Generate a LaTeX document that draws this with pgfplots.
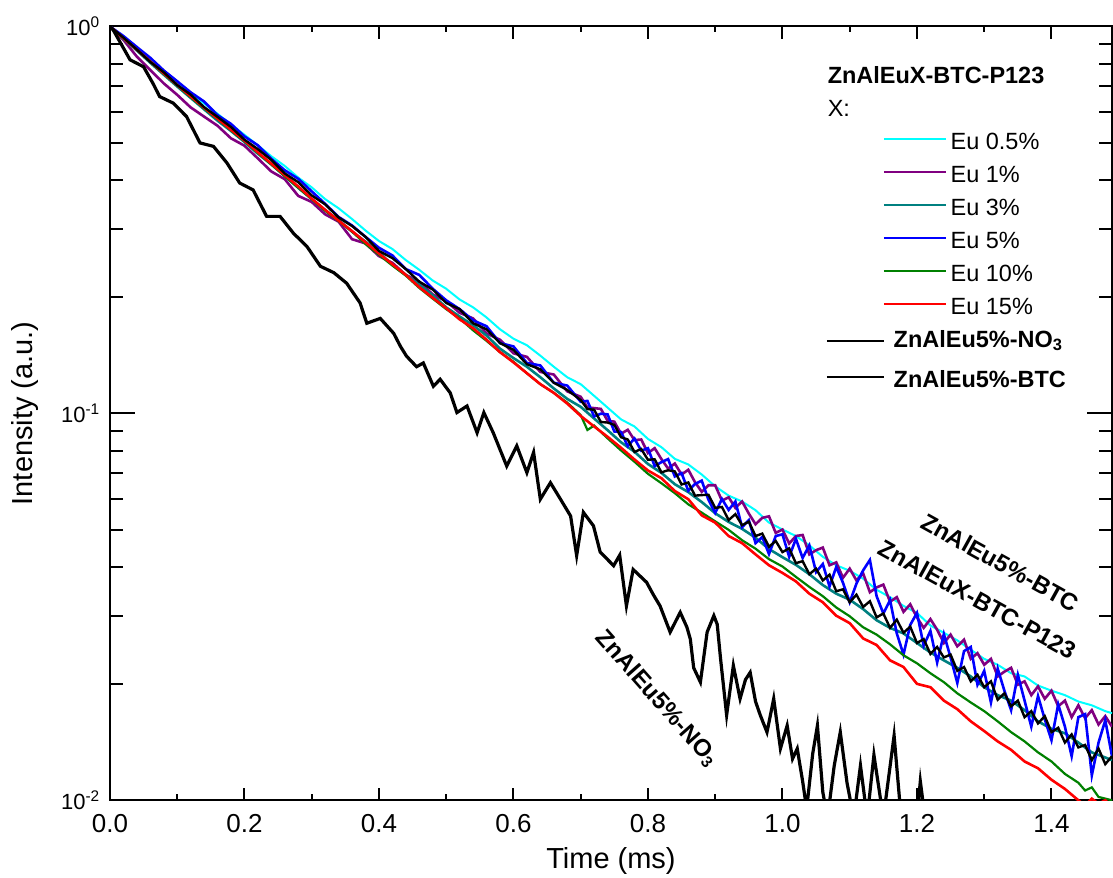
\documentclass[border=0pt]{standalone}
\usepackage{fontspec}
\setmainfont{Liberation Sans}
\usepackage{pgfplots}
\pgfplotsset{compat=1.18}
\definecolor{cEuA}{RGB}{0,255,255}
\definecolor{cEuB}{RGB}{128,0,128}
\definecolor{cEuC}{RGB}{0,128,128}
\definecolor{cEuD}{RGB}{0,0,255}
\definecolor{cEuE}{RGB}{0,128,0}
\definecolor{cEuF}{RGB}{255,0,0}
\pgfplotsset{
  euleg/.style={legend image code/.code={\draw[##1,line width=1pt,overlay] (28.5pt,0pt) -- (59.5pt,0pt);}},
  blkleg/.style={legend image code/.code={\draw[##1,line width=1pt] (0pt,0pt) -- (28.5pt,0pt);}},
}
\begin{document}
\begin{tikzpicture}
\begin{axis}[name=ax,
  scale only axis, width=501.5pt, height=387.25pt,
  xmin=0, xmax=1.49, ymode=log, ymin=0.01, ymax=1,
  xtick=\empty,
  ytick={0.01,0.1,1},
  yticklabels={10\textsuperscript{-2},10\textsuperscript{-1},10\textsuperscript{0}},
  minor ytick={0.02,0.03,0.04,0.05,0.06,0.07,0.08,0.09,0.2,0.3,0.4,0.5,0.6,0.7,0.8,0.9},
  major tick length=12.5pt, minor tick length=6.5pt,
  tick align=inside,
  every tick/.style={black, line width=1pt},
  axis line style={line width=1pt},
  yticklabel style={font=\fontsize{11}{13}\selectfont, xshift=-1.3pt},
  xlabel={Time (ms)}, ylabel={Intensity (a.u.)},
  every axis x label/.style={at={(axis description cs:0.5,-0.079)}, anchor=center, font=\fontsize{14.5}{17}\selectfont},
  every axis y label/.style={at={(axis description cs:-0.0847,0.5)}, rotate=90, anchor=center, font=\fontsize{14.5}{17}\selectfont},
  legend cell align=left,
  legend style={draw=none, fill=none, at={(0.714,0.961)}, anchor=north west,
    font=\fontsize{11.75}{14}\selectfont, inner sep=0pt, row sep=0pt, column sep=2.5pt,
    nodes={inner xsep=2pt, inner ysep=0pt, text height=13.25pt, text depth=3.25pt}},
]
\addlegendimage{empty legend}\addlegendentry{\hspace*{-33pt}\textbf{ZnAlEuX-BTC-P123}\hspace*{33pt}}
\addlegendimage{empty legend}\addlegendentry{\hspace*{-33pt}X:\hspace*{33pt}}

\addplot[cEuA, line width=1pt, euleg] coordinates {
(0,1.000)(0.02,0.938)(0.04,0.875)(0.06,0.818)(0.08,0.767)(0.10,0.718)(0.12,0.674)(0.14,0.632)(0.16,0.595)(0.18,0.558)(0.20,0.525)(0.22,0.493)(0.24,0.462)(0.26,0.436)(0.28,0.407)(0.30,0.384)(0.32,0.358)(0.34,0.339)(0.36,0.318)(0.38,0.297)(0.40,0.279)(0.42,0.266)(0.44,0.249)(0.46,0.235)(0.48,0.2205)(0.50,0.210)(0.52,0.197)(0.54,0.188)(0.56,0.177)(0.58,0.165)(0.60,0.156)(0.62,0.150)(0.64,0.141)(0.66,0.132)(0.68,0.124)(0.70,0.119)(0.72,0.111)(0.74,0.1035)(0.76,0.0965)(0.78,0.0925)(0.80,0.0859)(0.82,0.0818)(0.84,0.0763)(0.86,0.0738)(0.88,0.0695)(0.90,0.0648)(0.92,0.0613)(0.94,0.0592)(0.96,0.0562)(0.98,0.0522)(1.00,0.0501)(1.02,0.0482)(1.04,0.0456)(1.06,0.0426)(1.08,0.0405)(1.10,0.0392)(1.12,0.0374)(1.14,0.0350)(1.16,0.0335)(1.18,0.0318)(1.20,0.0305)(1.22,0.0283)(1.24,0.0271)(1.26,0.0259)(1.28,0.0245)(1.30,0.0232)(1.32,0.0224)(1.34,0.0213)(1.36,0.0209)(1.38,0.0198)(1.40,0.0192)(1.42,0.0187)(1.44,0.0180)(1.46,0.0176)(1.48,0.0170)(1.49,0.0168)
};
\addlegendentry{\hspace*{28.5pt}Eu 0.5\%}

\addplot[cEuB, line width=1.3pt, euleg] coordinates {
(0,1.000)(0.02,0.924)(0.04,0.836)(0.06,0.772)(0.08,0.713)(0.10,0.666)(0.12,0.618)(0.14,0.585)(0.16,0.554)(0.18,0.514)(0.20,0.492)(0.22,0.456)(0.24,0.422)(0.26,0.403)(0.28,0.365)(0.30,0.352)(0.32,0.327)(0.34,0.313)(0.36,0.282)(0.38,0.275)(0.40,0.255)(0.42,0.245)(0.44,0.228)(0.46,0.219)(0.48,0.203)(0.50,0.195)(0.52,0.182)(0.54,0.176)(0.56,0.161)(0.58,0.155)(0.60,0.143)(0.62,0.140)(0.64,0.128)(0.66,0.126)(0.68,0.114)
(0.70,0.1104)(0.71,0.1036)(0.72,0.1032)(0.73,0.1027)(0.74,0.0957)(0.75,0.0952)(0.76,0.0886)(0.77,0.0907)(0.78,0.0853)(0.79,0.0856)(0.80,0.0790)(0.81,0.0813)(0.82,0.0762)(0.83,0.0720)(0.84,0.0742)(0.85,0.0695)(0.86,0.0715)(0.87,0.0664)(0.88,0.0627)(0.89,0.0652)(0.90,0.0652)(0.91,0.0595)(0.92,0.0607)(0.93,0.0570)(0.94,0.0592)(0.95,0.0551)(0.96,0.0517)(0.97,0.0537)(0.98,0.0542)(0.99,0.0491)(1.00,0.0501)(1.01,0.0461)(1.02,0.0482)(1.03,0.0485)(1.04,0.0432)(1.05,0.0443)(1.06,0.0450)(1.07,0.0405)(1.08,0.0412)(1.09,0.0376)(1.10,0.0397)(1.11,0.0370)(1.12,0.0386)(1.13,0.0345)(1.14,0.0355)(1.15,0.0361)(1.16,0.0326)(1.17,0.0335)(1.18,0.0307)(1.19,0.0321)(1.20,0.0297)(1.21,0.0279)(1.22,0.0294)(1.23,0.0276)(1.24,0.0255)(1.25,0.0268)(1.26,0.0250)(1.27,0.0260)(1.28,0.0232)(1.29,0.0240)(1.30,0.0224)(1.31,0.0232)(1.32,0.0209)(1.33,0.0215)(1.34,0.0220)(1.35,0.0199)(1.36,0.0203)(1.37,0.0187)(1.38,0.0197)(1.39,0.0183)(1.40,0.0192)(1.41,0.0175)(1.42,0.0181)(1.43,0.0164)(1.44,0.0176)(1.45,0.0163)(1.46,0.0171)(1.47,0.0157)(1.48,0.0165)(1.49,0.0155)
};
\addlegendentry{\hspace*{28.5pt}Eu 1\%}

\addplot[cEuC, line width=1.3pt, euleg] coordinates {
(0,1.000)(0.02,0.930)(0.04,0.867)(0.06,0.806)(0.08,0.751)(0.10,0.700)(0.12,0.654)(0.14,0.611)(0.16,0.571)(0.18,0.537)(0.20,0.503)(0.22,0.469)(0.24,0.440)(0.26,0.411)(0.28,0.383)(0.30,0.358)(0.32,0.335)(0.34,0.316)(0.36,0.295)(0.38,0.278)(0.40,0.261)(0.42,0.242)(0.44,0.228)(0.46,0.215)(0.48,0.202)(0.50,0.188)(0.52,0.178)(0.54,0.169)(0.56,0.159)(0.58,0.147)(0.60,0.139)(0.62,0.132)(0.64,0.124)(0.66,0.116)(0.68,0.109)(0.70,0.104)(0.72,0.097)(0.74,0.0905)(0.76,0.0842)(0.78,0.0796)(0.80,0.0740)(0.82,0.0702)(0.84,0.0656)(0.86,0.0626)(0.88,0.0590)(0.90,0.0552)(0.92,0.0524)(0.94,0.0503)(0.96,0.0477)(0.98,0.0446)(1.00,0.0425)(1.02,0.0406)(1.04,0.0384)(1.06,0.0360)(1.08,0.0342)(1.10,0.0330)(1.12,0.0312)(1.14,0.0292)(1.16,0.0279)(1.18,0.0270)(1.20,0.0255)(1.22,0.0241)(1.24,0.0230)(1.26,0.0220)(1.28,0.0209)(1.30,0.0196)(1.32,0.0187)(1.34,0.0181)(1.36,0.0171)(1.38,0.0160)(1.40,0.0153)(1.42,0.0149)(1.44,0.0141)(1.46,0.0133)(1.48,0.0129)(1.49,0.0127)
};
\addlegendentry{\hspace*{28.5pt}Eu 3\%}

\addplot[cEuD, line width=1.3pt, euleg] coordinates {
(0,1.000)(0.02,0.945)(0.04,0.885)(0.06,0.830)(0.08,0.770)(0.10,0.722)(0.12,0.676)(0.14,0.640)(0.16,0.590)(0.18,0.560)(0.20,0.520)(0.22,0.493)(0.24,0.455)(0.26,0.425)(0.28,0.404)(0.30,0.375)(0.32,0.348)(0.34,0.322)(0.36,0.306)(0.38,0.286)(0.40,0.268)(0.42,0.256)(0.44,0.236)(0.46,0.228)(0.48,0.210)(0.50,0.196)(0.52,0.186)(0.54,0.174)(0.56,0.168)(0.58,0.152)(0.60,0.149)(0.62,0.135)(0.64,0.133)(0.66,0.120)(0.68,0.118)
(0.70,0.1072)(0.71,0.1077)(0.72,0.0982)(0.73,0.0998)(0.74,0.0994)(0.75,0.0898)(0.76,0.0895)(0.77,0.0823)(0.78,0.0861)(0.79,0.0801)(0.80,0.0813)(0.81,0.0731)(0.82,0.0748)(0.83,0.0762)(0.84,0.0687)(0.85,0.0701)(0.86,0.0631)(0.87,0.0657)(0.88,0.0670)(0.89,0.0598)(0.90,0.0553)(0.91,0.0601)(0.92,0.0563)(0.93,0.0592)(0.94,0.0508)(0.95,0.0530)(0.96,0.0462)(0.97,0.0479)(0.98,0.0433)(0.99,0.0482)(1.00,0.0487)(1.01,0.0426)(1.02,0.0474)(1.03,0.0423)(1.04,0.0456)(1.05,0.0389)(1.06,0.0408)(1.07,0.0357)(1.08,0.0401)(1.09,0.0365)(1.10,0.0325)(1.11,0.0363)(1.12,0.0393)(1.13,0.0418)(1.14,0.0337)(1.15,0.0304)(1.16,0.0329)(1.17,0.0270)(1.18,0.0238)(1.19,0.0284)(1.20,0.0305)(1.21,0.0251)(1.22,0.0274)(1.23,0.0227)(1.24,0.0269)(1.25,0.0234)(1.26,0.0201)(1.27,0.0243)(1.28,0.0249)(1.29,0.0199)(1.30,0.0216)(1.31,0.0179)(1.32,0.0219)(1.33,0.0192)(1.34,0.0171)(1.35,0.0211)(1.36,0.0181)(1.37,0.0155)(1.38,0.0186)(1.39,0.0162)(1.40,0.0143)(1.41,0.0177)(1.42,0.0155)(1.43,0.0130)(1.44,0.0164)(1.45,0.0167)(1.46,0.0116)(1.47,0.0141)(1.48,0.0161)(1.49,0.0130)
};
\addlegendentry{\hspace*{28.5pt}Eu 5\%}

\addplot[cEuE, line width=1.1pt, euleg] coordinates {
(0,1.000)(0.02,0.933)(0.04,0.871)(0.06,0.811)(0.08,0.755)(0.10,0.704)(0.12,0.657)(0.14,0.614)(0.16,0.577)(0.18,0.539)(0.20,0.505)(0.22,0.471)(0.24,0.440)(0.26,0.410)(0.28,0.383)(0.30,0.358)(0.32,0.334)(0.34,0.314)(0.36,0.295)(0.38,0.274)(0.40,0.257)(0.42,0.241)(0.44,0.227)(0.46,0.211)(0.48,0.198)(0.50,0.186)(0.52,0.176)(0.54,0.164)(0.56,0.154)(0.58,0.144)(0.60,0.136)(0.62,0.127)(0.64,0.119)(0.66,0.113)(0.68,0.1066)(0.70,0.0990)(0.71,0.0906)(0.72,0.0930)(0.74,0.0862)(0.76,0.0802)(0.78,0.0750)(0.80,0.0698)(0.82,0.0660)(0.84,0.0622)(0.86,0.0582)(0.88,0.0554)(0.90,0.0526)(0.92,0.0500)(0.94,0.0470)(0.96,0.0447)(0.98,0.0420)(1.00,0.0402)(1.02,0.0378)(1.04,0.0356)(1.06,0.0337)(1.08,0.0315)(1.10,0.0299)(1.12,0.0280)(1.14,0.0268)(1.16,0.0253)(1.18,0.0237)(1.20,0.0226)(1.22,0.0213)(1.24,0.0202)(1.26,0.0189)(1.28,0.0179)(1.30,0.0170)(1.32,0.0160)(1.34,0.0150)(1.36,0.0142)(1.38,0.0133)(1.40,0.0126)(1.42,0.0117)(1.44,0.0111)(1.45,0.0106)(1.46,0.0108)(1.47,0.0102)(1.48,0.0101)(1.49,0.0100)
};
\addlegendentry{\hspace*{28.5pt}Eu 10\%}

\addplot[cEuF, line width=1.3pt, euleg] coordinates {
(0,1.000)(0.02,0.933)(0.04,0.871)(0.06,0.812)(0.08,0.757)(0.10,0.706)(0.12,0.660)(0.14,0.617)(0.16,0.578)(0.18,0.541)(0.20,0.507)(0.22,0.473)(0.24,0.442)(0.26,0.413)(0.28,0.386)(0.30,0.359)(0.32,0.336)(0.34,0.315)(0.36,0.296)(0.38,0.277)(0.40,0.259)(0.42,0.243)(0.44,0.228)(0.46,0.212)(0.48,0.199)(0.50,0.187)(0.52,0.175)(0.54,0.166)(0.56,0.155)(0.58,0.144)(0.60,0.1355)(0.62,0.127)(0.64,0.119)(0.66,0.113)(0.68,0.106)(0.70,0.0985)(0.72,0.0925)(0.74,0.0870)(0.76,0.0815)(0.78,0.0760)(0.80,0.0712)(0.82,0.0680)(0.84,0.0630)(0.86,0.0600)(0.88,0.0545)(0.90,0.0522)(0.92,0.0482)(0.94,0.0462)(0.96,0.0432)(0.98,0.0405)(1.00,0.0387)(1.02,0.0368)(1.04,0.0342)(1.06,0.0325)(1.08,0.0300)(1.10,0.0287)(1.12,0.0262)(1.14,0.0252)(1.16,0.0230)(1.18,0.0221)(1.20,0.0200)(1.22,0.0196)(1.24,0.0181)(1.26,0.0172)(1.28,0.0160)(1.30,0.0151)(1.32,0.0142)(1.34,0.0135)(1.36,0.0126)(1.38,0.0121)(1.40,0.0113)(1.42,0.0107)(1.44,0.0100)(1.45,0.0097)(1.46,0.0101)(1.47,0.0098)(1.48,0.0100)(1.49,0.0096)
};
\addlegendentry{\hspace*{28.5pt}Eu 15\%}

\addplot[black, line width=1.6pt, blkleg] coordinates {
(0.000,1.000)(0.005,0.979)(0.030,0.820)(0.050,0.787)(0.064,0.713)(0.074,0.659)(0.094,0.634)(0.114,0.585)(0.134,0.500)(0.154,0.490)(0.174,0.444)(0.193,0.394)(0.213,0.378)(0.233,0.323)(0.253,0.323)(0.273,0.292)(0.293,0.270)(0.313,0.240)(0.333,0.231)(0.352,0.217)(0.372,0.193)(0.382,0.171)(0.402,0.176)(0.422,0.161)(0.432,0.149)(0.441,0.1406)(0.456,0.132)(0.466,0.135)(0.481,0.1175)(0.491,0.1225)(0.506,0.113)(0.516,0.1005)(0.531,0.1045)(0.546,0.0891)(0.556,0.1005)(0.570,0.0891)(0.580,0.0807)(0.590,0.0731)(0.605,0.0824)(0.620,0.0703)(0.630,0.0793)(0.640,0.0600)(0.655,0.0662)(0.670,0.0600)(0.685,0.0543)(0.694,0.0429)(0.704,0.0555)(0.719,0.0512)(0.729,0.0438)(0.749,0.0404)(0.758,0.0430)(0.768,0.0318)(0.778,0.0395)(0.798,0.0366)(0.808,0.0340)(0.818,0.0318)(0.833,0.0272)(0.848,0.0306)(0.858,0.0280)(0.863,0.0261)(0.868,0.0220)(0.878,0.0202)(0.888,0.0272)(0.898,0.0300)(0.903,0.0285)(0.908,0.0232)(0.917,0.0166)(0.927,0.0223)(0.937,0.0183)(0.945,0.0205)(0.952,0.0214)(0.960,0.0180)(0.967,0.0166)(0.977,0.0150)(0.987,0.0183)(0.997,0.0136)(1.007,0.0156)(1.015,0.0128)(1.022,0.0136)(1.030,0.0112)(1.036,0.0095)(1.045,0.0132)(1.052,0.0156)(1.060,0.0105)(1.067,0.0090)(1.077,0.0123)(1.086,0.0150)(1.096,0.0111)(1.106,0.0090)(1.116,0.0123)(1.126,0.0090)(1.136,0.0131)(1.150,0.0090)(1.166,0.0147)(1.176,0.0092)(1.186,0.0090)(1.200,0.0090)(1.205,0.0112)(1.212,0.0090)(1.25,0.0085)
};
\addlegendentry[text depth=6.75pt]{\textbf{ZnAlEu5\%-NO\textsubscript{3}}}

\addplot[black, line width=1.2pt, blkleg] coordinates {
(0.00,1.000)(0.02,0.936)(0.04,0.872)(0.06,0.810)(0.08,0.762)(0.10,0.706)(0.12,0.667)(0.14,0.619)(0.16,0.584)(0.18,0.550)(0.20,0.510)(0.22,0.482)(0.24,0.452)(0.26,0.417)(0.28,0.396)(0.30,0.366)(0.32,0.347)(0.34,0.321)(0.36,0.305)(0.38,0.286)(0.40,0.263)(0.42,0.252)(0.44,0.236)(0.46,0.219)(0.48,0.209)(0.50,0.193)(0.52,0.186)(0.54,0.171)(0.56,0.165)(0.58,0.152)(0.60,0.146)(0.62,0.134)(0.64,0.130)(0.66,0.120)(0.68,0.115)
(0.70,0.1083)(0.71,0.1026)(0.72,0.1022)(0.73,0.0950)(0.74,0.0947)(0.75,0.0934)(0.76,0.0868)(0.77,0.0856)(0.78,0.0795)(0.79,0.0809)(0.80,0.0759)(0.81,0.0761)(0.82,0.0704)(0.83,0.0713)(0.84,0.0708)(0.85,0.0655)(0.86,0.0663)(0.87,0.0613)(0.88,0.0615)(0.89,0.0616)(0.90,0.0570)(0.91,0.0573)(0.92,0.0530)(0.93,0.0549)(0.94,0.0514)(0.95,0.0525)(0.96,0.0482)(0.97,0.0489)(0.98,0.0452)(0.99,0.0468)(1.00,0.0438)(1.01,0.0448)(1.02,0.0410)(1.03,0.0415)(1.04,0.0384)(1.05,0.0397)(1.06,0.0370)(1.07,0.0383)(1.08,0.0347)(1.09,0.0351)(1.10,0.0325)(1.11,0.0340)(1.12,0.0316)(1.13,0.0327)(1.14,0.0297)(1.15,0.0304)(1.16,0.0279)(1.17,0.0293)(1.18,0.0271)(1.19,0.0281)(1.20,0.0255)(1.21,0.0261)(1.22,0.0239)(1.23,0.0249)(1.24,0.0234)(1.25,0.0238)(1.26,0.0216)(1.27,0.0221)(1.28,0.0203)(1.29,0.0211)(1.30,0.0196)(1.31,0.0203)(1.32,0.0182)(1.33,0.0189)(1.34,0.0175)(1.35,0.0181)(1.36,0.0164)(1.37,0.0170)(1.38,0.0158)(1.39,0.0165)(1.40,0.0150)(1.41,0.0154)(1.42,0.0141)(1.43,0.0148)(1.44,0.0137)(1.45,0.0139)(1.46,0.0127)(1.47,0.0136)(1.48,0.0124)(1.49,0.0130)
};
\addlegendentry{\textbf{ZnAlEu5\%-BTC}}

\node[rotate=-29, font=\bfseries\fontsize{12}{14}\selectfont] at (axis cs:1.324,0.0412) {ZnAlEu5\%-BTC};
\node[rotate=-29, font=\bfseries\fontsize{12}{14}\selectfont] at (axis cs:1.290,0.0331) {ZnAlEuX-BTC-P123};
\node[rotate=-48.5, font=\bfseries\fontsize{12}{14}\selectfont] at (axis cs:0.8135,0.0183) {ZnAlEu5\%-NO\textsubscript{3}};
\end{axis}
\begin{axis}[
  at={(ax.south west)}, anchor=south west,
  scale only axis, width=501.5pt, height=387.25pt,
  xmin=0, xmax=1.49, ymode=log, ymin=0.01, ymax=1,
  ytick=\empty, minor ytick={},
  xtick={0,0.2,0.4,0.6,0.8,1.0,1.2,1.4},
  minor xtick={0.1,0.3,0.5,0.7,0.9,1.1,1.3},
  major tick length=6.3pt, minor tick length=3pt,
  tick align=inside,
  every tick/.style={black, line width=1pt},
  axis line style={draw=none},
  /pgf/number format/assume math mode=true,
  xticklabel style={font=\fontsize{13}{15}\selectfont, yshift=-3.5pt, /pgf/number format/.cd, fixed, fixed zerofill, precision=1, /tikz/.cd},
]
\end{axis}
\pgfresetboundingbox
\path ([xshift=-55pt,yshift=-38.5pt]ax.south west) rectangle ([xshift=0.5pt,yshift=13.25pt]ax.north east);
\end{tikzpicture}
\end{document}
